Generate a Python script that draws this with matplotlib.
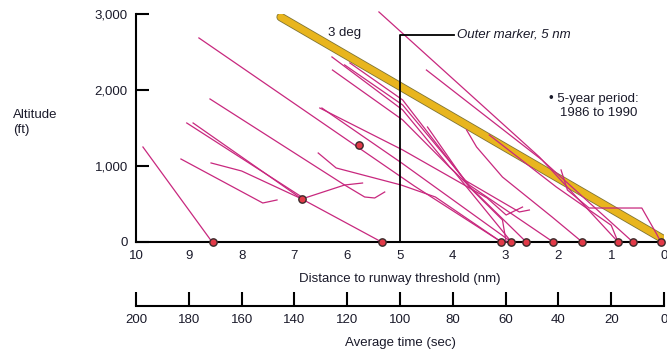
import matplotlib.pyplot as plt
import matplotlib.patheffects as pe

# ---- data: approach trajectories (distance nm, altitude ft) ----
traj_dist = [
    [9.87, 8.56],
    [8.81, 4.73, 3.08],
    [8.60, 6.05, 5.67, 5.48, 5.29],
    [9.04, 6.86],
    [8.92, 6.86, 5.35],
    [8.58, 8.00, 6.94, 6.86, 6.05, 5.71],
    [9.15, 7.60, 7.33],
    [6.48, 4.97, 2.89],
    [6.55, 6.21, 4.98, 4.33, 3.08],
    [5.40, 2.36, 0.87],
    [4.50, 2.31, 0.59],
    [1.95, 1.83, 1.42, 0.42, 0.15, 0.06],
    [3.31, 2.04, 1.00, 0.87],
    [6.29, 4.95, 4.06, 2.61],
    [6.28, 4.95, 3.97, 2.89],
    [6.05, 4.95, 3.69, 2.10],
    [5.95, 4.95, 3.78, 2.74, 2.55],
    [6.52, 4.95, 3.35, 2.99, 2.68],
    [4.48, 3.69, 3.06, 2.99],
    [3.74, 3.55, 3.06, 2.12, 1.55],
]
traj_alt = [
    [1250, 0],
    [2685, 737, 0],
    [1882, 750, 592, 579, 658],
    [1566, 592],
    [1566, 566, 0],
    [1040, 934, 592, 566, 750, 776],
    [1092, 513, 553],
    [1763, 1040, 0],
    [1171, 974, 750, 592, 0],
    [3027, 1118, 0],
    [2263, 1079, 0],
    [948, 684, 447, 447, 118, 0],
    [1408, 724, 220, 0],
    [2435, 1737, 987, 0],
    [2263, 1606, 921, 0],
    [2330, 1803, 750, 0],
    [2356, 1869, 816, 395, 421],
    [1763, 1211, 579, 355, 460],
    [1513, 724, 290, 0],
    [1474, 1250, 855, 329, 0],
]

# touchdown / end points
mark_dist = [8.54, 5.35, 3.08, 2.89, 2.61, 2.10, 1.55, 0.87, 0.59, 0.06, 6.86, 5.77]
mark_alt = [0, 0, 0, 0, 0, 0, 0, 0, 0, 0, 566, 1276]

# 3 degree reference glide path
glide_dist = [7.26, 0.02]
glide_alt = [2960, 40]

dist_ticks = [10, 9, 8, 7, 6, 5, 4, 3, 2, 1, 0]
time_ticks = [200, 180, 160, 140, 120, 100, 80, 60, 40, 20, 0]
alt_ticks = [0, 1000, 2000, 3000]
alt_labels = ['0', '1,000', '2,000', '3,000']

plt.rcParams['font.family'] = ['Liberation Sans', 'DejaVu Sans']
txt = '#1a1a2a'
pink = '#c8287e'
fs = 9.5

fig = plt.figure(figsize=(6.67, 3.5), dpi=100)
ax = fig.add_axes([0.204, 0.3086, 0.7915, 0.6514])

ax.plot(glide_dist, glide_alt, color='#e8b51e', lw=5, solid_capstyle='round',
        zorder=3, path_effects=[pe.Stroke(linewidth=6.2, foreground='#7f7436'), pe.Normal()])

for dd, aa in zip(traj_dist, traj_alt):
    ax.plot(dd, aa, color=pink, lw=0.9, zorder=4, clip_on=False)

ax.scatter(mark_dist, mark_alt, s=28, color='#e23a48', edgecolors='#3a2a2a',
           linewidths=1.0, zorder=6, clip_on=False)

# outer marker
ax.plot([5, 5, 3.97], [0, 2724, 2724], color='black', lw=1.3, zorder=5)
ax.text(3.93, 2724, 'Outer marker, 5 nm', style='italic', fontsize=fs,
        color=txt, va='center', ha='left')
ax.text(6.37, 2750, '3 deg', fontsize=fs, color=txt, va='center', ha='left')
ax.text(2.17, 1790, '• 5-year period:\n   1986 to 1990', fontsize=fs,
        color=txt, va='center', ha='left', linespacing=1.25)

ax.set_xlim(10, 0)
ax.set_ylim(0, 3000)
ax.set_xticks(dist_ticks)
ax.set_xticklabels([str(t) for t in dist_ticks])
ax.set_yticks(alt_ticks)
ax.set_yticklabels(alt_labels)
ax.tick_params(axis='y', direction='in', length=9, width=1.5, labelsize=fs,
               labelcolor=txt, pad=6)
ax.tick_params(axis='x', length=0, labelsize=fs, labelcolor=txt, pad=6)
for s in ['top', 'right']:
    ax.spines[s].set_visible(False)
for s in ['left', 'bottom']:
    ax.spines[s].set_linewidth(1.5)
ax.set_xlabel('Distance to runway threshold (nm)', fontsize=fs, color=txt, labelpad=8)
fig.text(0.02, 0.65, 'Altitude\n(ft)', fontsize=fs, color=txt, va='center', ha='left',
         linespacing=1.3)

# second scale: average time
ax2 = fig.add_axes([0.204, 0.1257, 0.7915, 0.001])
ax2.set_xlim(200, 0)
ax2.set_xticks(time_ticks)
ax2.set_xticklabels([str(t) for t in time_ticks])
ax2.set_yticks([])
ax2.patch.set_visible(False)
for s in ['top', 'right', 'left']:
    ax2.spines[s].set_visible(False)
ax2.spines['bottom'].set_linewidth(1.5)
ax2.tick_params(axis='x', direction='in', length=10, width=1.5, labelsize=fs,
                labelcolor=txt, pad=6)
ax2.set_xlabel('Average time (sec)', fontsize=fs, color=txt, labelpad=8)

fig.savefig('out.png', dpi=100)
